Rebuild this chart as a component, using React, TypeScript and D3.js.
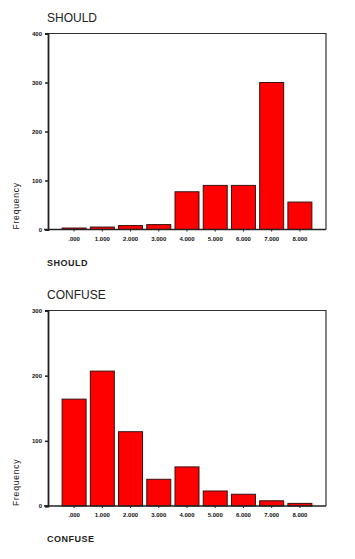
import React, { useEffect, useRef } from 'react';
import * as d3 from 'd3';

const categories = ['.000', '1.000', '2.000', '3.000', '4.000', '5.000', '6.000', '7.000', '8.000'];
const shouldValues = [3, 5, 8, 10, 77, 90, 90, 300, 56];
const confuseValues = [164, 207, 114, 41, 60, 23, 18, 8, 4];
const shouldTicks = [0, 100, 200, 300, 400];
const confuseTicks = [0, 100, 200, 300];

interface HistProps {
  title: string;
  values: number[];
  ticks: number[];
  yMax: number;
  top: number; // y of the plot's top edge
  bottom: number; // y of the zero line
}

const Histogram: React.FC<HistProps> = ({ title, values, ticks, yMax, top, bottom }) => {
  const gRef = useRef<SVGGElement>(null);

  useEffect(() => {
    if (!gRef.current) return;
    const g = d3.select(gRef.current);
    g.selectAll('*').remove();

    const left = 48;
    const right = 326;
    const font = 'Arial, "Liberation Sans", sans-serif';

    const x = d3.scaleBand<string>()
      .domain(categories)
      .range([left, right])
      .paddingInner(0.15)
      .paddingOuter(0.5);

    const y = d3.scaleLinear().domain([0, yMax]).range([bottom, top]);

    // Chart title
    g.append('text')
      .attr('x', 47)
      .attr('y', top - 12)
      .attr('font-family', font)
      .attr('font-size', 12)
      .attr('fill', '#222')
      .text(title);

    // Frame: top and right edges
    g.append('path')
      .attr('d', `M${left},${top}H${right}V${bottom}`)
      .attr('fill', 'none')
      .attr('stroke', '#333')
      .attr('stroke-width', 1.2);

    // Bars
    g.selectAll('rect.bar')
      .data(values)
      .enter()
      .append('rect')
      .attr('class', 'bar')
      .attr('x', (_, i) => x(categories[i]) as number)
      .attr('y', d => y(d))
      .attr('width', x.bandwidth())
      .attr('height', d => bottom - y(d))
      .attr('fill', '#ff0000')
      .attr('stroke', '#3a1010')
      .attr('stroke-width', 1);

    // Y axis
    const yAxis = g.append('g')
      .attr('transform', `translate(${left},0)`)
      .call(d3.axisLeft(y).tickValues(ticks).tickSize(3).tickFormat(d3.format('d')));
    yAxis.select('.domain').attr('stroke', '#222').attr('stroke-width', 1.8);
    yAxis.selectAll('line').attr('stroke', '#222').attr('stroke-width', 1.5);
    yAxis.selectAll('text')
      .attr('font-family', font)
      .attr('font-size', 6)
      .attr('font-weight', 'bold')
      .attr('fill', '#111')
      .attr('x', -6);

    // X axis
    const xAxis = g.append('g')
      .attr('transform', `translate(0,${bottom})`)
      .call(d3.axisBottom(x).tickSize(2).tickPadding(5));
    xAxis.select('.domain').attr('d', `M${left - 4},0H${right}`).attr('stroke', '#222').attr('stroke-width', 1.5);
    xAxis.selectAll('line').attr('stroke', '#222').attr('stroke-width', 1);
    xAxis.selectAll('text')
      .attr('font-family', font)
      .attr('font-size', 6)
      .attr('font-weight', 'bold')
      .attr('fill', '#111');

    // Y axis label
    g.append('text')
      .attr('transform', `translate(19,${bottom}) rotate(-90)`)
      .attr('text-anchor', 'start')
      .attr('font-family', font)
      .attr('font-size', 8.5)
      .attr('letter-spacing', 0.8)
      .attr('fill', '#222')
      .text('Frequency');

    // X axis label
    g.append('text')
      .attr('x', 47)
      .attr('y', bottom + 36)
      .attr('font-family', font)
      .attr('font-size', 9)
      .attr('font-weight', 'bold')
      .attr('letter-spacing', 0.5)
      .attr('fill', '#222')
      .text(title);
  }, [title, values, ticks, yMax, top, bottom]);

  return <g ref={gRef} />;
};

const App: React.FC = () => (
  <svg
    width={355}
    height={559}
    style={{ position: 'absolute', left: 0, top: 0, background: '#fff' }}
  >
    <rect width={355} height={559} fill="#fff" />
    <Histogram title="SHOULD" values={shouldValues} ticks={shouldTicks} yMax={400} top={33.5} bottom={229.5} />
    <Histogram title="CONFUSE" values={confuseValues} ticks={confuseTicks} yMax={300} top={310.5} bottom={506} />
  </svg>
);

export default App;
